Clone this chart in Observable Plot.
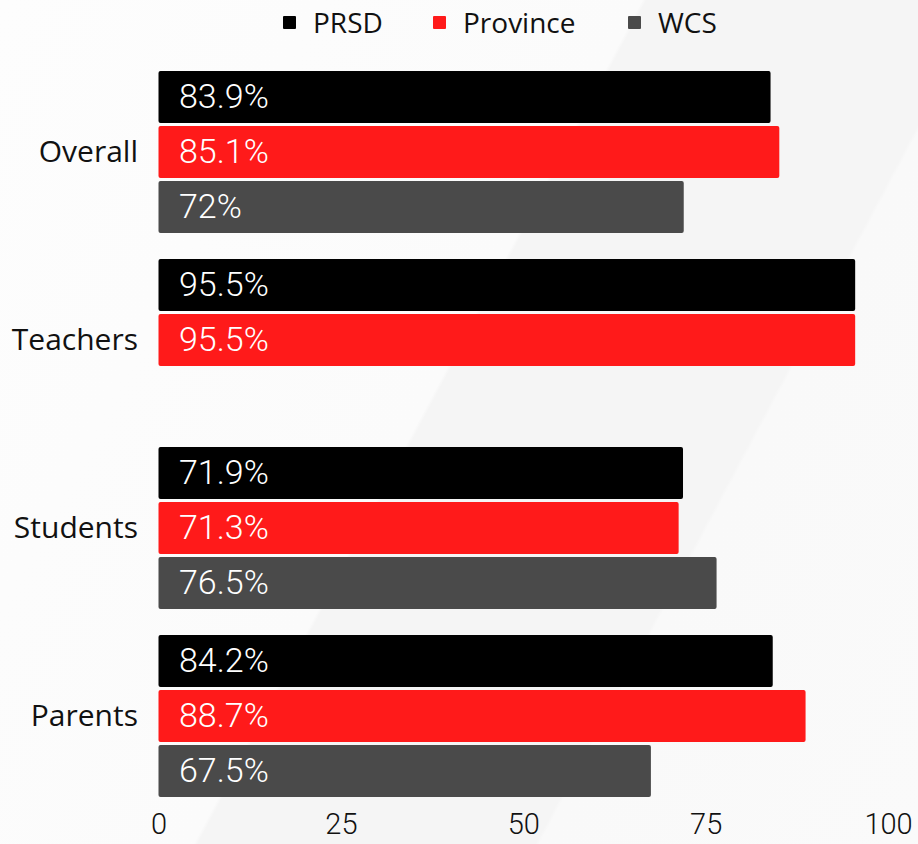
<!DOCTYPE html>
<html>
<head>
<meta charset="utf-8">
<script src="https://cdn.jsdelivr.net/npm/d3@7"></script>
<script src="https://cdn.jsdelivr.net/npm/@observablehq/plot@0.6"></script>
<style>
  html, body { margin: 0; padding: 0; }
  body {
    width: 918px; height: 844px; overflow: hidden;
    background: linear-gradient(118deg, #fdfdfd 0%, #fbfbfb 47%, #f5f5f5 47.3%, #f5f5f5 72%, #f9f9f9 72.3%, #fafafa 100%);
    font-family: "Open Sans", sans-serif;
  }
  #legend {
    height: 44px; display: flex; align-items: center;
    padding-left: 283px; box-sizing: border-box;
    font-size: 28px; color: #111;
  }
  #legend .item { display: flex; align-items: center; }
  #legend .sw { width: 13px; height: 13px; margin-right: 17px; border-radius: 1px; }
</style>
</head>
<body>
<div id="legend"></div>
<div id="chart"></div>
<script>
const categories = ["Overall", "Teachers", "Students", "Parents"];
const series = ["PRSD", "Province", "WCS"];
const prsd = [83.9, 95.5, 71.9, 84.2];
const province = [85.1, 95.5, 71.3, 88.7];
const wcs = [72, null, 76.5, 67.5];
const xTicks = [0, 25, 50, 75, 100];
const colors = ["#000000", "#ff1a1a", "#4a4a4a"];
const legendWidths = [150, 195, 120];

const seriesValues = [prsd, province, wcs];
const data = [];
categories.forEach((c, i) => {
  series.forEach((s, j) => {
    const v = seriesValues[j][i];
    if (v != null) data.push({category: c, series: s, value: v});
  });
});

const legend = document.getElementById("legend");
series.forEach((s, j) => {
  const item = document.createElement("div");
  item.className = "item";
  item.style.width = legendWidths[j] + "px";
  item.innerHTML = `<span class="sw" style="background:${colors[j]}"></span><span>${s}</span>`;
  legend.appendChild(item);
});

const chart = Plot.plot({
  width: 918,
  height: 800,
  marginTop: 25,
  marginBottom: 45,
  marginLeft: 158.5,
  marginRight: 30,
  style: {background: "transparent", fontFamily: "Open Sans, sans-serif", color: "#111"},
  x: {domain: [0, 100], ticks: xTicks, tickSize: 0, tickPadding: 15, label: null},
  y: {domain: series, paddingInner: 0.05, paddingOuter: 0, axis: null},
  fy: {domain: categories, paddingInner: 0.13, paddingOuter: 0, label: null, axis: null},
  color: {domain: series, range: colors},
  marks: [
    Plot.barX(data, {x: "value", y: "series", fy: "category", fill: "series", rx: 2}),
    Plot.text(data, {
      y: "series", fy: "category", text: d => `${d.value}%`,
      frameAnchor: "left", dx: 20, textAnchor: "start",
      fill: "white", fontSize: 34, fontFamily: "Roboto", fontWeight: 300
    }),
    Plot.axisFy({anchor: "left", tickSize: 0, tickPadding: 21, fontSize: 30, label: null, fontFamily: "Open Sans"}),
    Plot.axisX({ticks: xTicks, tickSize: 0, tickPadding: 15, fontSize: 29, label: null, fontFamily: "Roboto", fontWeight: 300, fill: "#111"})
  ]
});
document.getElementById("chart").appendChild(chart);
</script>
</body>
</html>
